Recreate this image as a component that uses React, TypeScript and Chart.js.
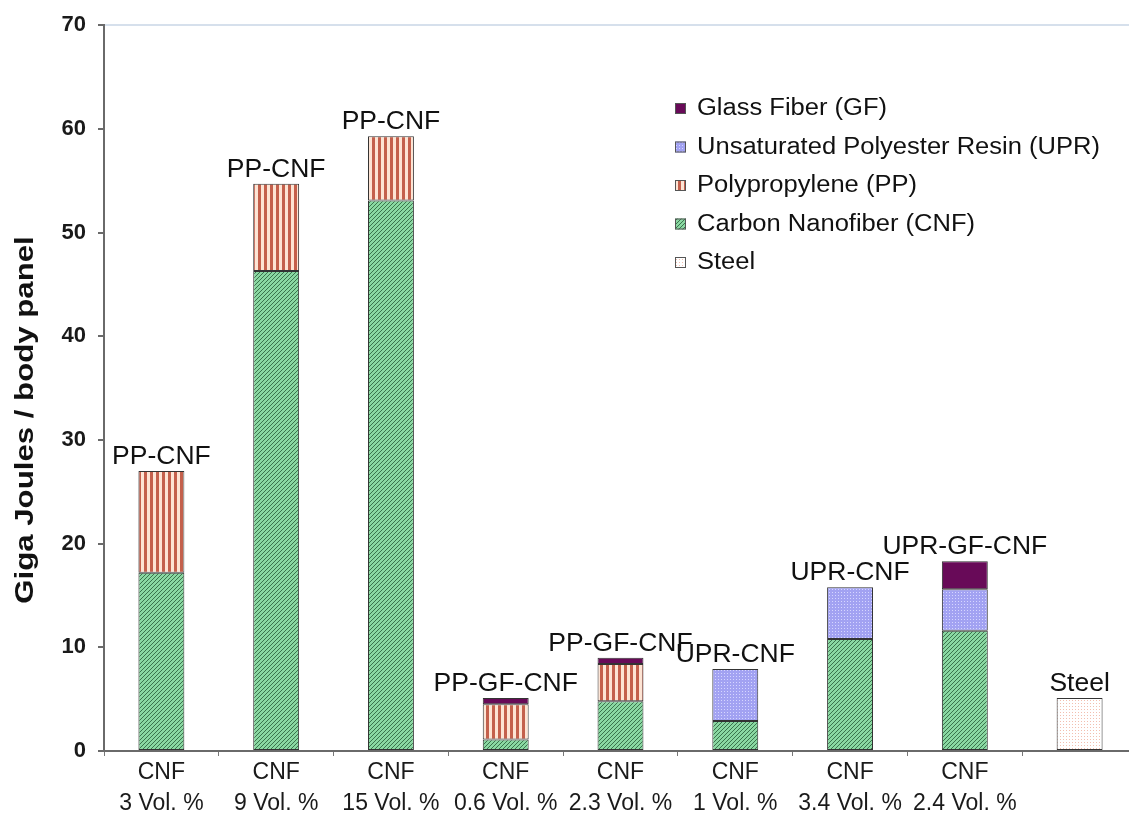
import React, { useEffect, useRef } from "react";
import { Chart, registerables } from "chart.js";

Chart.register(...registerables);

const catLine1 = ["CNF", "CNF", "CNF", "CNF", "CNF", "CNF", "CNF", "CNF", ""];
const catLine2 = ["3 Vol. %", "9 Vol. %", "15 Vol. %", "0.6 Vol. %", "2.3 Vol. %", "1 Vol. %", "3.4 Vol. %", "2.4 Vol. %", ""];
const barLabels = ["PP-CNF", "PP-CNF", "PP-CNF", "PP-GF-CNF", "PP-GF-CNF", "UPR-CNF", "UPR-CNF", "UPR-GF-CNF", "Steel"];

const cnfValues = [17.2, 46.3, 53.1, 1.1, 4.8, 2.9, 10.8, 11.6, null];
const ppValues = [9.8, 8.4, 6.2, 3.4, 3.6, null, null, null, null];
const uprValues = [null, null, null, null, null, 5.0, 5.0, 4.0, null];
const gfValues = [null, null, null, 0.6, 0.6, null, null, 2.7, null];
const steelValues = [null, null, null, null, null, null, null, null, 5.1];

const legendNames = [
  "Glass Fiber (GF)",
  "Unsaturated Polyester Resin (UPR)",
  "Polypropylene (PP)",
  "Carbon Nanofiber (CNF)",
  "Steel",
];

const FONT = "'Liberation Sans', Arial, sans-serif";

function makeTile(w: number, h: number, draw: (c: CanvasRenderingContext2D) => void): CanvasPattern {
  const cv = document.createElement("canvas");
  cv.width = w;
  cv.height = h;
  const c = cv.getContext("2d")!;
  draw(c);
  const tmp = document.createElement("canvas").getContext("2d")!;
  return tmp.createPattern(cv, "repeat")!;
}

function buildPatterns() {
  const cnf = makeTile(4, 4, (c) => {
    c.fillStyle = "#8ad8a2";
    c.fillRect(0, 0, 4, 4);
    c.fillStyle = "#3a744c";
    for (let i = 0; i < 4; i++) {
      c.fillRect(i, 3 - i, 1, 1);
    }
  });
  const pp = makeTile(6, 6, (c) => {
    c.fillStyle = "#fde4d4";
    c.fillRect(0, 0, 6, 6);
    c.fillStyle = "#c4604c";
    c.fillRect(0, 0, 3, 6);
  });
  const upr = makeTile(3, 3, (c) => {
    c.fillStyle = "#a2a2f2";
    c.fillRect(0, 0, 3, 3);
    c.fillStyle = "#d6d6ff";
    c.fillRect(1, 1, 1, 1);
  });
  const gf = "#680a58";
  const steel = makeTile(3, 3, (c) => {
    c.fillStyle = "#ffffff";
    c.fillRect(0, 0, 3, 3);
    c.fillStyle = "#f2bfb0";
    c.fillRect(1, 1, 1, 1);
  });
  return { cnf, pp, upr, gf, steel };
}

export default function App() {
  const ref = useRef<HTMLCanvasElement>(null);

  useEffect(() => {
    if (!ref.current) return;
    const pat = buildPatterns();
    const legendFills = [pat.gf, pat.upr, pat.pp, pat.cnf, pat.steel];

    const barLabelPlugin = {
      id: "barLabels",
      afterDatasetsDraw(chart: any) {
        const ctx = chart.ctx;
        for (let i = 0; i < barLabels.length; i++) {
          let topY: number | null = null;
          let x = 0;
          chart.data.datasets.forEach((ds: any, d: number) => {
            const v = ds.data[i];
            if (v === null || v === undefined) return;
            const el = chart.getDatasetMeta(d).data[i];
            if (topY === null || el.y < topY) {
              topY = el.y;
              x = el.x;
            }
          });
          if (topY === null) continue;
          ctx.save();
          ctx.translate(x, (topY as number) - 7);
          ctx.scale(1.06, 1);
          ctx.font = `25px ${FONT}`;
          ctx.fillStyle = "#111";
          ctx.textAlign = "center";
          ctx.textBaseline = "alphabetic";
          ctx.fillText(barLabels[i], 0, 0);
          ctx.restore();
        }
      },
    };

    const extrasPlugin = {
      id: "extras",
      afterDraw(chart: any) {
        const ctx = chart.ctx;
        ctx.save();
        // y axis title
        ctx.translate(26, 420);
        ctx.rotate(-Math.PI / 2);
        ctx.scale(1.2, 1);
        ctx.font = `bold 26px ${FONT}`;
        ctx.fillStyle = "#111";
        ctx.textAlign = "center";
        ctx.textBaseline = "middle";
        ctx.fillText("Giga Joules / body panel", 0, 0);
        ctx.restore();

        // legend
        for (let i = 0; i < legendNames.length; i++) {
          const cy = 108 + i * 38.5;
          ctx.save();
          ctx.fillStyle = legendFills[i] as any;
          ctx.fillRect(675, cy - 5, 11, 11);
          ctx.strokeStyle = "#555";
          ctx.lineWidth = 1;
          ctx.strokeRect(675.5, cy - 4.5, 10, 10);
          ctx.translate(697, cy + 1);
          ctx.scale(1.11, 1);
          ctx.font = `23px ${FONT}`;
          ctx.textBaseline = "middle";
          ctx.textAlign = "left";
          ctx.fillStyle = "#111";
          ctx.fillText(legendNames[i], 0, 0);
          ctx.restore();
        }
      },
    };

    const common = {
      borderColor: "#333",
      borderWidth: 1,
      barPercentage: 0.4,
      categoryPercentage: 1,
      borderSkipped: false,
    };

    const chart = new Chart(ref.current, {
      type: "bar",
      data: {
        labels: catLine1.map((l, i) => [l, catLine2[i]]),
        datasets: [
          { label: "Carbon Nanofiber (CNF)", data: cnfValues, backgroundColor: pat.cnf, ...common },
          { label: "Polypropylene (PP)", data: ppValues, backgroundColor: pat.pp, ...common },
          { label: "Unsaturated Polyester Resin (UPR)", data: uprValues, backgroundColor: pat.upr, ...common },
          { label: "Glass Fiber (GF)", data: gfValues, backgroundColor: pat.gf, ...common },
          { label: "Steel", data: steelValues, backgroundColor: pat.steel, ...common },
        ] as any,
      },
      options: {
        animation: false,
        responsive: true,
        maintainAspectRatio: false,
        layout: { padding: { top: 25, right: 3, left: 0, bottom: 0 } },
        plugins: {
          legend: { display: false },
          tooltip: { enabled: false },
        },
        scales: {
          x: {
            stacked: true,
            grid: {
              display: true,
              drawOnChartArea: false,
              drawTicks: true,
              tickLength: 5,
              tickColor: "#777",
              offset: true,
            },
            border: { display: true, color: "#6a6a6a", width: 2 },
            ticks: {
              color: "#1a1a1a",
              padding: 1,
              maxRotation: 0,
              autoSkip: false,
              font: { family: FONT, size: 23, lineHeight: 1.35 },
            },
            afterFit(scale: any) {
              scale.height = 64;
            },
          },
          y: {
            stacked: true,
            min: 0,
            max: 70,
            ticks: {
              stepSize: 10,
              color: "#1a1a1a",
              padding: 12,
              font: { family: FONT, size: 22, weight: "bold" },
            },
            grid: {
              drawTicks: true,
              tickLength: 6,
              tickColor: "#6a6a6a",
              lineWidth: 2,
              color: (c: any) => (c.tick && c.tick.value === 70 ? "#d6e0ec" : "rgba(0,0,0,0)"),
            },
            border: { display: true, color: "#6a6a6a", width: 2 },
            afterFit(scale: any) {
              scale.width = 104;
            },
          },
        },
      },
      plugins: [barLabelPlugin, extrasPlugin],
    } as any);

    return () => chart.destroy();
  }, []);

  return (
    <div
      style={{
        position: "fixed",
        left: 0,
        top: 0,
        width: 1129,
        height: 815,
        overflow: "hidden",
        background: "#fff",
      }}
    >
      <div style={{ position: "relative", width: 1140, height: 815 }}>
        <canvas ref={ref} />
      </div>
    </div>
  );
}
